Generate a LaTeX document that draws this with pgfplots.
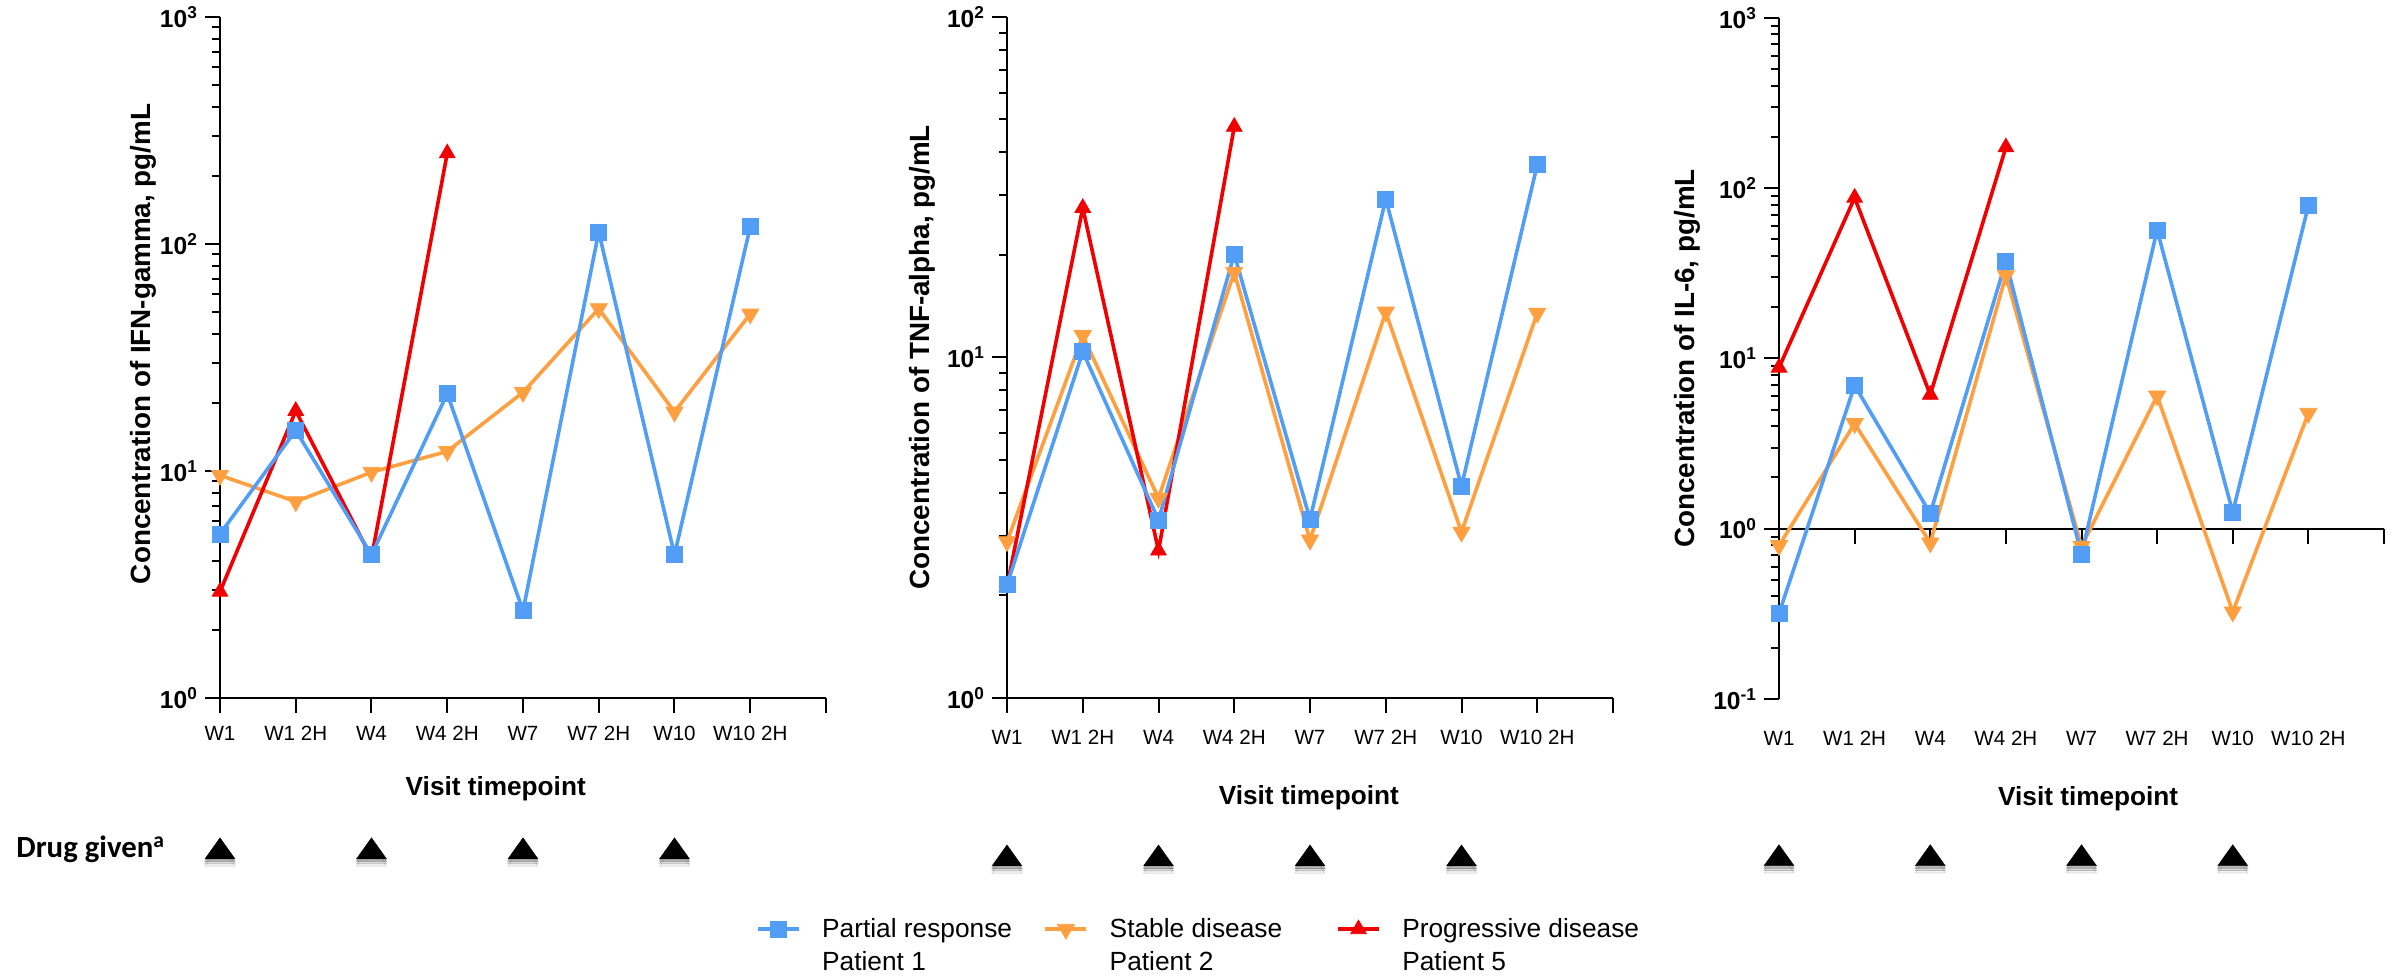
\documentclass[border=0pt]{standalone}
\usepackage{fontspec}
\setmainfont{Liberation Sans}
\newfontfamily\carlito{Carlito}
\usepackage{pgfplots}
\pgfplotsset{compat=1.18}
\definecolor{cblue}{HTML}{529EF6}
\definecolor{corange}{HTML}{FF9F40}
\definecolor{cred}{HTML}{F20000}
\tikzset{
  serPR/.style={cblue, line width=1.8pt, mark=square*, mark size=4pt, mark options={line width=0.4pt}},
  serSD/.style={corange, line width=1.8pt, mark=triangle*, mark size=4.9pt, mark options={rotate=180, line width=0.4pt}},
  serPD/.style={cred, line width=1.8pt, mark=triangle*, mark size=4.5pt, mark options={line width=0.4pt}},
  serDrug/.style={mark=triangle*, mark size=8.66pt, black, mark options={yscale=0.81, line width=0.2pt}},
  serShadowA/.style={mark=triangle*, mark size=8.66pt, mark options={yscale=0.81, yshift=-1.5pt, fill=black!60, draw=none, opacity=0.30}},
  serShadowB/.style={mark=triangle*, mark size=8.66pt, mark options={yscale=0.81, yshift=-3pt, fill=black!50, draw=none, opacity=0.20}},
  serShadowC/.style={mark=triangle*, mark size=8.66pt, mark options={yscale=0.81, yshift=-4.5pt, fill=black!40, draw=none, opacity=0.12}},
}
\begin{document}
\begin{tikzpicture}
\useasboundingbox (0,0) rectangle (1199.5pt,488.5pt);

% Panel 1: IFN-gamma
\begin{axis}[at={(110pt,139.5pt)}, anchor=south west,
  scale only axis, width=303pt, height=340.5pt,
  ymode=log, xmin=0, xmax=8,
  axis lines*=left, clip=false,
  axis line style={line width=1pt, black},
  tick style={line width=1pt, black},
  tick align=outside,
  major tick length=7.5pt, minor tick length=4pt,
  xtick={0,...,8},
  xticklabels={W1,W1 2H,W4,W4 2H,W7,W7 2H,W10,W10 2H,{}},
  xticklabel style={font=\fontsize{10.3}{12}\selectfont, anchor=base, yshift=-14pt},
  yticklabel style={font=\fontsize{12.3}{14}\selectfont\bfseries},
  ymin=1, ymax=1000,
  ytick={1,10,100,1000},
  yticklabels={10\textsuperscript{0},10\textsuperscript{1},10\textsuperscript{2},10\textsuperscript{3}},
  minor ytick={2,3,4,5,6,7,8,9,20,30,40,50,60,70,80,90,200,300,400,500,600,700,800,900},
  ylabel={Concentration of IFN-gamma, pg/mL},
  ylabel style={font=\fontsize{13.9}{16}\selectfont\bfseries, anchor=center, at={(axis description cs:-0.127,0.52)}},
  xlabel={Visit timepoint},
  xlabel style={font=\fontsize{13.1}{16}\selectfont\bfseries, anchor=base, at={(axis description cs:0.455,-0.1439)}},
]
\addplot[serSD] coordinates {(0,9.57)(1,7.33)(2,9.88)(3,12.2)(4,22.2)(5,51.9)(6,18.2)(7,49.2)};
\addplot[serPD] coordinates {(0,2.94)(1,18.4)(2,4.15)(3,251)};
\addplot[serPR] coordinates {(0,5.28)(1,15.1)(2,4.27)(3,21.9)(4,2.42)(5,113)(6,4.27)(7,119)};
\addplot[only marks, serShadowC] coordinates {(0,0.210)(2,0.210)(4,0.210)(6,0.210)};
\addplot[only marks, serShadowB] coordinates {(0,0.210)(2,0.210)(4,0.210)(6,0.210)};
\addplot[only marks, serShadowA] coordinates {(0,0.210)(2,0.210)(4,0.210)(6,0.210)};
\addplot[only marks, serDrug] coordinates {(0,0.210)(2,0.210)(4,0.210)(6,0.210)};
\end{axis}

% Panel 2: TNF-alpha
\begin{axis}[at={(503.5pt,139.5pt)}, anchor=south west,
  scale only axis, width=303pt, height=340.5pt,
  ymode=log, xmin=0, xmax=8,
  axis lines*=left, clip=false,
  axis line style={line width=1pt, black},
  tick style={line width=1pt, black},
  tick align=outside,
  major tick length=7.5pt, minor tick length=4pt,
  xtick={0,...,8},
  xticklabels={W1,W1 2H,W4,W4 2H,W7,W7 2H,W10,W10 2H,{}},
  xticklabel style={font=\fontsize{10.3}{12}\selectfont, anchor=base, yshift=-16pt},
  yticklabel style={font=\fontsize{12.3}{14}\selectfont\bfseries},
  ymin=1, ymax=100,
  ytick={1,10,100},
  yticklabels={10\textsuperscript{0},10\textsuperscript{1},10\textsuperscript{2}},
  minor ytick={2,3,4,5,6,7,8,9,20,30,40,50,60,70,80,90},
  ylabel={Concentration of TNF-alpha, pg/mL},
  ylabel style={font=\fontsize{13.9}{16}\selectfont\bfseries, anchor=center, at={(axis description cs:-0.140,0.5)}},
  xlabel={Visit timepoint},
  xlabel style={font=\fontsize{13.1}{16}\selectfont\bfseries, anchor=base, at={(axis description cs:0.498,-0.1557)}},
  legend columns=3,
  legend cell align=left,
  legend style={at={(axis description cs:-0.4142,-0.3395)}, anchor=west, draw=none, fill=none,
    inner sep=0pt, outer sep=0pt, font=\fontsize{13.15}{16}\selectfont,
    nodes={inner sep=0pt},
    /tikz/column sep=0pt,
    /tikz/every odd column/.append style={column sep=10.75pt}},
  legend image code/.code={\draw[mark repeat=2, mark phase=2, #1] plot coordinates {(0pt,0pt) (10.25pt,0pt) (20.5pt,0pt)};},
]
\addlegendimage{serPR}
\addlegendentry{\makebox[110.75pt][l]{\rlap{\raisebox{-16.5pt}[0pt][0pt]{Patient 1}}Partial response}}
\addlegendimage{serSD}
\addlegendentry{\makebox[113.25pt][l]{\rlap{\raisebox{-16.5pt}[0pt][0pt]{Patient 2}}Stable disease}}
\addlegendimage{serPD}
\addlegendentry{\rlap{\raisebox{-16.5pt}[0pt][0pt]{Patient 5}}Progressive disease}
\addplot[serSD, forget plot] coordinates {(0,2.88)(1,11.6)(2,3.86)(3,17.8)(4,2.91)(5,13.6)(6,3.07)(7,13.5)};
\addplot[serPD, forget plot] coordinates {(0,2.12)(1,27.5)(2,2.71)(3,47.6)};
\addplot[serPR, forget plot] coordinates {(0,2.15)(1,10.4)(2,3.33)(3,20.1)(4,3.35)(5,29.2)(6,4.19)(7,36.8)};
\addplot[only marks, serShadowC, forget plot] coordinates {(0,0.3367)(2,0.3367)(4,0.3367)(6,0.3367)};
\addplot[only marks, serShadowB, forget plot] coordinates {(0,0.3367)(2,0.3367)(4,0.3367)(6,0.3367)};
\addplot[only marks, serShadowA, forget plot] coordinates {(0,0.3367)(2,0.3367)(4,0.3367)(6,0.3367)};
\addplot[only marks, serDrug, forget plot] coordinates {(0,0.3367)(2,0.3367)(4,0.3367)(6,0.3367)};
\end{axis}

% Panel 3: IL-6
\begin{axis}[at={(889.5pt,139pt)}, anchor=south west,
  scale only axis, width=302.5pt, height=340.5pt,
  ymode=log, xmin=0, xmax=8,
  axis lines*=left, clip=false,
  axis line style={line width=1pt, black},
  x axis line style={draw=none},
  tick style={line width=1pt, black},
  xtick style={draw=none},
  tick align=outside,
  major tick length=7.5pt, minor tick length=4pt,
  xtick={0,...,8},
  xticklabels={W1,W1 2H,W4,W4 2H,W7,W7 2H,W10,W10 2H,{}},
  xticklabel style={font=\fontsize{10.3}{12}\selectfont, anchor=base, yshift=-16pt},
  yticklabel style={font=\fontsize{12.3}{14}\selectfont\bfseries},
  ymin=0.1, ymax=1000,
  ytick={0.1,1,10,100,1000},
  yticklabels={10\textsuperscript{-1},10\textsuperscript{0},10\textsuperscript{1},10\textsuperscript{2},10\textsuperscript{3}},
  minor ytick={0.2,0.3,0.4,0.5,0.6,0.7,0.8,0.9,2,3,4,5,6,7,8,9,20,30,40,50,60,70,80,90,200,300,400,500,600,700,800,900},
  ylabel={Concentration of IL-6, pg/mL},
  ylabel style={font=\fontsize{13.9}{16}\selectfont\bfseries, anchor=center, at={(axis description cs:-0.152,0.5)}},
  xlabel={Visit timepoint},
  xlabel style={font=\fontsize{13.1}{16}\selectfont\bfseries, anchor=base, at={(axis description cs:0.511,-0.1557)}},
]
\draw[line width=1pt, black] (axis cs:0,1) -- (axis cs:8,1);
\pgfplotsinvokeforeach{0,...,8}{\draw[line width=1pt, black] (axis cs:#1,1) -- ([yshift=-7.5pt]axis cs:#1,1);}
\addplot[serSD] coordinates {(0,0.797)(1,4.15)(2,0.826)(3,30.7)(4,0.787)(5,6.03)(6,0.325)(7,4.77)};
\addplot[serPD] coordinates {(0,8.84)(1,88.0)(2,6.12)(3,174)};
\addplot[serPR] coordinates {(0,0.318)(1,6.95)(2,1.23)(3,37.2)(4,0.707)(5,56.8)(6,1.25)(7,79.2)};
\addplot[only marks, serShadowC] coordinates {(0,0.01153)(2,0.01153)(4,0.01153)(6,0.01153)};
\addplot[only marks, serShadowB] coordinates {(0,0.01153)(2,0.01153)(4,0.01153)(6,0.01153)};
\addplot[only marks, serShadowA] coordinates {(0,0.01153)(2,0.01153)(4,0.01153)(6,0.01153)};
\addplot[only marks, serDrug] coordinates {(0,0.01153)(2,0.01153)(4,0.01153)(6,0.01153)};
\end{axis}

\node[anchor=base west, inner sep=0pt, font=\carlito\bfseries\fontsize{15.4}{18}\selectfont] at (8pt,59.5pt) {Drug given\textsuperscript{a}};
\end{tikzpicture}
\end{document}
